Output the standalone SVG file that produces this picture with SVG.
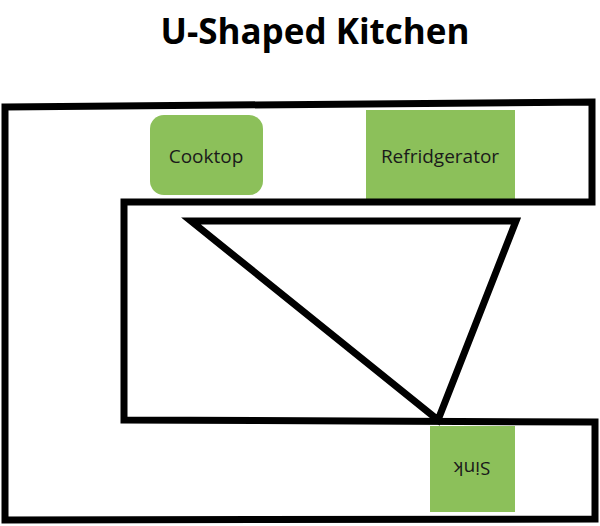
<svg xmlns="http://www.w3.org/2000/svg" width="600" height="526" viewBox="0 0 600 526">
<style>
.ap{fill:#8cc05a}
.lbl{font-family:"Open Sans","Liberation Sans",sans-serif;font-size:19px;fill:#1a1a1a;text-anchor:middle;dominant-baseline:central}
.wall{fill:none;stroke:#000;stroke-width:7;stroke-linejoin:miter}
</style>
<rect width="600" height="526" fill="#fff"/>
<text x="315" y="30" font-family="'Open Sans','Liberation Sans',sans-serif" font-weight="bold" font-size="35" text-anchor="middle" dominant-baseline="central" fill="#000">U-Shaped Kitchen</text>
<g id="cooktop"><rect class="ap" x="150" y="115" width="113" height="80" rx="14"/><text class="lbl" x="206" y="156">Cooktop</text></g>
<g id="refrigerator"><rect class="ap" x="366" y="110" width="149" height="91"/><text class="lbl" x="440" y="156">Refridgerator</text></g>
<g id="sink"><rect class="ap" x="430" y="426" width="85" height="86"/><text class="lbl" x="472" y="469" transform="rotate(180 472 469)">Sink</text></g>
<g id="connectors">
<path class="wall" d="M5,107 L592,102 L592,202 L124,202 L124,420 L595,422 L595,519 L5,520 Z"/>
<path class="wall" d="M191,221 L516,221 L438,420 Z"/>
</g>
</svg>
